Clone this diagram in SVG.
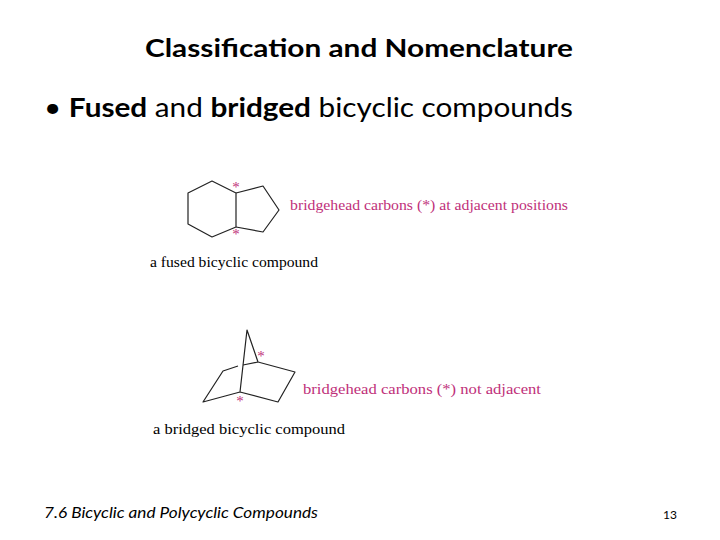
<svg xmlns="http://www.w3.org/2000/svg" width="720" height="540" viewBox="0 0 720 540">
<style>
.b{fill:none;stroke:#222;stroke-width:1.2;stroke-linejoin:round}
.s{font-family:"Liberation Serif",serif;font-size:15px}
.p{fill:#c0307a}
.t{font-family:Lato,"Open Sans",sans-serif;fill:#000}
</style>
<rect width="720" height="540" fill="#fff"/>
<text class="t" x="145" y="57" font-size="25" font-weight="bold" textLength="428" lengthAdjust="spacingAndGlyphs">Classification and Nomenclature</text>
<text class="t" x="44" y="117" font-size="26" textLength="529" lengthAdjust="spacingAndGlyphs">• <tspan font-weight="bold">Fused</tspan> and <tspan font-weight="bold">bridged</tspan> bicyclic compounds</text>
<g id="fused">
<polygon class="b" points="212,181 236,193 236,227 212,237 188,224 188,193"/>
<polyline class="b" points="236,193 263,186 279,210 263,232 236,227"/>
<text class="s p" x="236" y="192" text-anchor="middle" font-size="12">*</text>
<text class="s p" x="236" y="239" text-anchor="middle" font-size="12">*</text>
<text class="s p" x="290" y="210" textLength="278" lengthAdjust="spacingAndGlyphs">bridgehead carbons (*) at adjacent positions</text>
<text class="s" x="150" y="267" font-size="16" textLength="168" lengthAdjust="spacingAndGlyphs">a fused bicyclic compound</text>
</g>
<g id="bridged">
<polyline class="b" points="240,392 247,330 258,362 295,372 278,402 240,392 203,402 223,371 238,366"/>
<line class="b" x1="243" y1="365" x2="258" y2="362"/>
<text class="s p" x="261" y="361" text-anchor="middle" font-size="12">*</text>
<text class="s p" x="240" y="406" text-anchor="middle" font-size="12">*</text>
<text class="s p" x="303" y="394" textLength="238" lengthAdjust="spacingAndGlyphs">bridgehead carbons (*) not adjacent</text>
<text class="s" x="153" y="434" font-size="16" textLength="192" lengthAdjust="spacingAndGlyphs">a bridged bicyclic compound</text>
</g>
<text x="44" y="518" font-family="Lato,'Open Sans',sans-serif" font-size="16" font-style="italic" textLength="274" lengthAdjust="spacingAndGlyphs">7.6 Bicyclic and Polycyclic Compounds</text>
<text x="677" y="519" font-family="Lato,'Open Sans',sans-serif" font-size="12" text-anchor="end">13</text>
</svg>
